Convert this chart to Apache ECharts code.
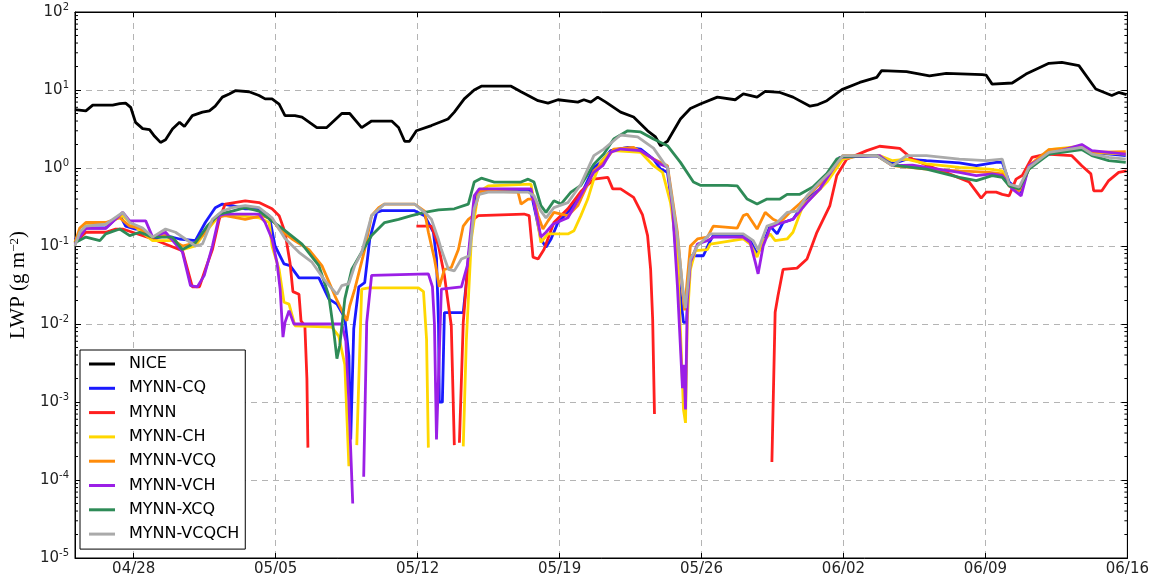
<!DOCTYPE html>
<html>
<head>
<meta charset="utf-8">
<script src="https://cdn.jsdelivr.net/npm/echarts@6/dist/echarts.min.js"></script>
<style>
  html, body { margin: 0; padding: 0; background: #fff; }
  #chart { width: 1152px; height: 578px; }
</style>
</head>
<body>
<div id="chart"></div>
<script>
// Liquid water path during the N-ICE drift, late April to mid June 2015.
// Every series is a list of [days since 2015-04-25 00:00 UTC, LWP in g m-2].
// A null value marks a stretch with no liquid (the line is broken there).

const nice = [
  [0.10,5.6],[0.64,5.4],[0.98,6.4],[1.96,6.4],[2.31,6.7],[2.60,6.8],[2.85,6.0],[3.09,3.85],[3.44,3.2],[3.78,3.1],
  [4.03,2.55],[4.32,2.13],[4.57,2.3],[4.91,3.16],[5.26,3.85],[5.50,3.4],[5.89,4.7],[6.39,5.2],[6.73,5.4],[7.02,6.2],
  [7.37,8.1],[7.71,8.9],[8.01,9.8],[8.69,9.5],[9.18,8.5],[9.48,7.7],[9.82,7.7],[10.17,6.6],[10.46,4.7],[10.95,4.7],
  [11.30,4.5],[12.03,3.3],[12.52,3.3],[13.26,5.0],[13.65,5.0],[14.24,3.3],[14.73,4.0],[15.72,4.0],[16.06,3.3],[16.36,2.2],
  [16.60,2.2],[16.94,3.0],[17.68,3.5],[18.50,4.25],[18.81,5.2],[19.30,7.7],[19.79,10],[20.14,11.2],[21.61,11.2],[22.10,9.5],
  [22.94,7.3],[23.43,6.8],[23.92,7.5],[24.90,7.0],[25.20,7.5],[25.54,7.0],[25.88,8.1],[26.28,7.0],[27.01,5.2],[27.65,4.5],
  [28.34,3.0],[28.73,2.5],[28.98,1.93],[29.32,2.2],[29.96,4.25],[30.45,5.8],[30.94,6.6],[31.78,8.1],[32.66,7.5],[33.06,8.9],
  [33.74,8.1],[34.14,9.6],[34.87,9.3],[35.51,8.1],[36.35,6.2],[36.74,6.5],[37.18,7.3],[37.92,10.1],[38.80,12.5],[39.64,14.5],
  [39.88,17.7],[41.11,17.2],[42.24,15.2],[43.07,16.3],[44.84,15.7],[45.04,15.5],[45.33,11.9],[46.32,12.3],[47.00,16],[48.13,22],
  [48.77,22.6],[49.61,20.5],[50.44,10.3],[51.23,8.5],[51.57,9.3],[51.96,8.7]
];

const mynnCQ = [
  [0.10,0.12],[0.64,0.17],[1.62,0.17],[2.31,0.25],[2.60,0.18],[3.09,0.165],[3.44,0.165],[3.93,0.123],[4.57,0.136],[5.26,0.123],
  [6.04,0.117],[6.53,0.2],[7.02,0.31],[7.37,0.345],[7.86,0.33],[8.50,0.3],[9.18,0.3],[9.68,0.245],[9.97,0.1],[10.41,0.059],
  [10.71,0.056],[11.15,0.039],[12.13,0.039],[12.62,0.021],[13.02,0.018],[13.41,0.012],[13.61,0.0039],[13.70,0.00033],[13.85,0.0087],[14.10,0.03],
  [14.39,0.034],[14.64,0.123],[14.98,0.27],[15.23,0.284],[16.85,0.284],[17.34,0.245],[17.78,0.15],[17.93,0.07],[18.03,0.01],[18.07,0.001],
  [18.22,0.001],[18.32,0.014],[19.25,0.014],[19.40,0.034],[19.65,0.15],[19.89,0.44],[20.14,0.51],[22.45,0.51],[22.59,0.49],[22.84,0.245],
  [23.08,0.123],[23.33,0.096],[23.58,0.123],[23.92,0.2],[24.41,0.27],[25.05,0.45],[25.69,1.02],[26.03,1.18],[26.52,1.67],[27.36,1.84],
  [28.00,1.75],[28.63,1.3],[28.98,0.97],[29.32,0.88],[29.57,0.3],[29.81,0.05],[30.11,0.0105],[30.26,0.0105],[30.45,0.075],[31.09,0.075],
  [31.43,0.117],[31.58,0.136],[33.06,0.136],[33.40,0.117],[33.74,0.079],[33.99,0.1],[34.38,0.18],[34.73,0.143],[35.02,0.2],[35.51,0.22],
  [36.20,0.4],[36.84,0.54],[37.48,0.97],[37.97,1.37],[38.80,1.41],[39.64,1.44],[40.42,1.13],[41.11,1.3],[42.09,1.24],[43.71,1.16],
  [44.55,1.07],[45.53,1.18],[45.83,1.18],[46.17,0.66],[46.76,0.49],[47.15,1.07],[48.13,1.51],[49.75,1.9],[50.25,1.59],[51.92,1.44]
];

const mynn = [
  [0.10,0.11],[0.64,0.15],[1.62,0.15],[2.11,0.165],[2.46,0.165],[3.93,0.123],[5.40,0.087],[5.89,0.03],[6.24,0.03],[6.53,0.05],
  [6.88,0.09],[7.22,0.22],[7.51,0.345],[8.50,0.38],[9.18,0.36],[9.82,0.3],[10.17,0.245],[10.46,0.15],[10.71,0.06],[10.85,0.026],
  [11.15,0.024],[11.25,0.011],[11.44,0.0095],[11.54,0.002],[11.59,0.00026],[11.70,null],
  [16.94,0.18],[17.68,0.18],[18.03,0.1],[18.32,0.042],[18.66,0.0095],[18.81,0.00028],[18.90,null],
  [19.06,0.0003],[19.25,0.0105],[19.50,0.068],[19.74,0.22],[19.99,0.245],[22.25,0.257],[22.50,0.245],[22.69,0.072],[22.94,0.068],[23.23,0.09],
  [23.72,0.2],[24.41,0.3],[25.05,0.5],[25.69,0.72],[26.38,0.76],[26.62,0.54],[27.01,0.54],[27.65,0.42],[28.09,0.25],[28.34,0.136],
  [28.49,0.05],[28.59,0.0116],[28.68,0.0007],[29.00,null],
  [34.47,0.00017],[34.63,0.0141],[34.77,0.023],[35.02,0.05],[35.71,0.052],[36.20,0.068],[36.69,0.15],[37.33,0.33],[37.67,0.8],[38.16,1.3],
  [39.15,1.67],[39.78,1.9],[40.77,1.79],[41.40,1.3],[42.09,1.09],[43.22,0.84],[44.20,0.66],[44.79,0.41],[45.04,0.49],[45.53,0.49],
  [45.83,0.46],[46.17,0.44],[46.51,0.72],[46.81,0.8],[47.30,1.37],[47.99,1.51],[49.26,1.44],[49.75,1.07],[50.20,0.84],[50.34,0.51],
  [50.74,0.51],[51.08,0.69],[51.57,0.88],[51.96,0.92]
];

const mynnCH = [
  [0.10,0.11],[0.64,0.19],[1.62,0.19],[2.46,0.245],[2.80,0.2],[3.93,0.117],[5.06,0.117],[5.40,0.09],[6.04,0.1],[6.53,0.15],
  [7.22,0.245],[7.51,0.257],[9.18,0.23],[9.68,0.2],[9.82,0.1],[10.17,0.05],[10.41,0.019],[10.66,0.018],[10.95,0.0095],[12.77,0.0091],
  [13.11,0.007],[13.41,0.003],[13.61,0.00015],[13.80,null],
  [14.00,0.00028],[14.24,0.028],[14.59,0.029],[17.04,0.029],[17.29,0.026],[17.44,0.0064],[17.53,0.00026],[18.50,null],
  [19.25,0.00027],[19.40,0.006],[19.65,0.123],[19.99,0.49],[20.48,0.59],[22.59,0.62],[22.84,0.27],[23.08,0.111],[23.43,0.143],[24.41,0.143],
  [24.71,0.157],[25.05,0.245],[25.39,0.4],[25.69,0.72],[26.03,1.18],[26.38,1.51],[26.67,1.67],[28.00,1.59],[28.63,1.07],[29.08,0.88],
  [29.47,0.36],[29.81,0.083],[30.11,0.0008],[30.21,0.00054],[30.30,0.0116],[30.45,0.05],[30.70,0.087],[31.29,0.09],[31.43,0.106],[33.06,0.123],
  [33.40,0.106],[33.74,0.072],[33.99,0.111],[34.38,0.143],[34.63,0.117],[35.22,0.123],[35.51,0.15],[36.00,0.33],[36.69,0.49],[37.18,0.66],
  [37.97,1.3],[38.80,1.44],[39.78,1.44],[40.42,1.24],[41.11,1.3],[42.09,1.13],[43.71,1.02],[45.19,0.97],[45.83,0.92],[46.17,0.59],
  [46.66,0.51],[47.15,0.97],[48.13,1.72],[49.75,1.9],[50.25,1.59],[51.92,1.51]
];

const mynnVCQ = [
  [0.10,0.11],[0.34,0.17],[0.64,0.2],[1.62,0.2],[2.31,0.23],[2.80,0.18],[3.29,0.17],[3.78,0.13],[4.57,0.136],[5.40,0.1],
  [6.04,0.11],[6.53,0.15],[7.02,0.23],[7.51,0.245],[8.50,0.22],[9.33,0.245],[9.82,0.22],[10.17,0.165],[10.81,0.123],[11.64,0.09],
  [12.28,0.056],[12.92,0.023],[13.51,0.011],[13.65,0.017],[13.90,0.028],[14.39,0.09],[14.73,0.245],[15.08,0.31],[15.37,0.345],[16.85,0.345],
  [17.34,0.28],[17.53,0.15],[17.83,0.068],[18.07,0.03],[18.32,0.05],[18.66,0.053],[19.01,0.09],[19.25,0.18],[19.50,0.22],[19.74,0.245],
  [19.99,0.44],[20.14,0.51],[21.95,0.49],[22.10,0.345],[22.45,0.4],[22.74,0.4],[22.94,0.245],[23.18,0.165],[23.43,0.21],[23.72,0.27],
  [24.07,0.257],[24.41,0.245],[24.90,0.33],[25.05,0.4],[25.69,0.92],[26.18,1.18],[26.67,1.75],[27.65,1.84],[28.63,1.3],[29.32,1.07],
  [29.81,0.15],[30.16,0.015],[30.45,0.1],[30.80,0.123],[31.29,0.13],[31.58,0.18],[32.76,0.17],[33.06,0.245],[33.25,0.257],[33.74,0.165],
  [34.14,0.27],[34.53,0.22],[34.87,0.2],[35.36,0.27],[35.85,0.35],[36.49,0.51],[37.18,0.76],[37.97,1.44],[39.64,1.44],[40.42,1.07],
  [42.09,0.97],[43.71,0.92],[45.19,0.88],[45.83,0.84],[46.17,0.59],[46.66,0.51],[47.15,1.07],[48.13,1.72],[49.75,1.84],[50.25,1.59],
  [51.92,1.62]
];

const mynnVCH = [
  [0.10,0.106],[0.64,0.168],[1.62,0.168],[2.46,0.27],[2.80,0.21],[3.59,0.21],[3.93,0.13],[4.57,0.15],[5.40,0.084],[5.80,0.031],
  [6.14,0.03],[6.48,0.042],[6.88,0.1],[7.22,0.245],[7.51,0.257],[9.18,0.257],[9.48,0.2],[9.82,0.123],[10.07,0.06],[10.22,0.028],
  [10.36,0.0068],[10.46,0.0105],[10.66,0.0148],[10.90,0.01],[13.26,0.01],[13.46,0.006],[13.61,0.001],[13.80,0.00005],[14.00,null],
  [14.34,0.00011],[14.49,0.0105],[14.73,0.042],[17.53,0.044],[17.73,0.03],[17.83,0.01],[17.93,0.00033],[18.05,0.003],[18.17,0.028],[19.16,0.03],
  [19.45,0.056],[19.79,0.44],[20.04,0.54],[22.59,0.54],[22.84,0.27],[23.08,0.13],[23.33,0.15],[23.67,0.19],[24.41,0.23],[25.05,0.45],
  [25.69,0.88],[26.13,1.07],[26.52,1.59],[27.01,1.75],[28.00,1.67],[28.63,1.3],[28.98,1.12],[29.32,1.02],[29.57,0.3],[29.81,0.031],
  [30.06,0.0015],[30.13,0.003],[30.21,0.0008],[30.30,0.02],[30.45,0.062],[30.80,0.106],[31.29,0.117],[31.58,0.13],[33.06,0.13],[33.40,0.111],
  [33.65,0.062],[33.79,0.044],[34.04,0.1],[34.38,0.17],[34.73,0.19],[35.02,0.2],[35.51,0.22],[36.20,0.36],[36.84,0.54],[37.48,0.97],
  [37.82,1.37],[38.80,1.41],[39.78,1.44],[40.42,1.07],[41.40,1.09],[42.09,1.02],[43.71,0.88],[44.55,0.8],[45.33,0.84],[45.83,0.8],
  [46.32,0.54],[46.76,0.44],[47.15,1.07],[48.13,1.51],[49.75,2.0],[50.25,1.67],[51.92,1.51]
];

const mynnXCQ = [
  [0.10,0.11],[0.64,0.13],[1.33,0.117],[1.62,0.143],[2.31,0.165],[2.80,0.136],[3.29,0.15],[3.93,0.13],[4.91,0.13],[5.40,0.09],
  [6.04,0.11],[6.63,0.18],[7.22,0.257],[7.86,0.28],[8.50,0.31],[9.18,0.28],[9.82,0.21],[10.46,0.157],[11.30,0.106],[12.13,0.056],
  [12.62,0.023],[12.87,0.0078],[13.02,0.0036],[13.16,0.0053],[13.41,0.021],[13.75,0.05],[14.24,0.083],[14.73,0.136],[15.37,0.2],[16.06,0.22],
  [16.70,0.245],[17.34,0.27],[18.03,0.29],[18.81,0.3],[19.50,0.345],[19.79,0.66],[20.14,0.74],[20.78,0.66],[22.10,0.66],[22.45,0.72],
  [22.74,0.66],[23.08,0.33],[23.33,0.27],[23.72,0.38],[24.07,0.345],[24.56,0.49],[25.05,0.6],[25.69,1.12],[26.18,1.51],[26.67,2.35],
  [27.36,3.0],[28.00,2.9],[28.63,2.35],[29.32,1.93],[29.96,1.18],[30.60,0.66],[30.94,0.6],[32.27,0.6],[32.76,0.59],[33.25,0.4],
  [33.74,0.345],[34.23,0.4],[34.87,0.4],[35.22,0.46],[35.85,0.46],[36.49,0.57],[37.18,0.85],[37.67,1.3],[37.97,1.4],[39.64,1.44],
  [40.42,1.09],[42.09,0.97],[43.71,0.76],[44.55,0.69],[45.33,0.8],[45.83,0.76],[46.17,0.59],[46.66,0.54],[47.15,0.97],[48.13,1.51],
  [49.75,1.72],[50.25,1.44],[51.08,1.24],[51.92,1.18]
];

const mynnVCQCH = [
  [0.10,0.1],[0.34,0.15],[0.64,0.18],[1.62,0.19],[2.46,0.27],[2.80,0.2],[3.44,0.17],[3.93,0.13],[4.57,0.165],[5.06,0.15],
  [5.55,0.123],[6.04,0.1],[6.39,0.106],[6.88,0.22],[7.37,0.28],[7.86,0.31],[8.50,0.33],[9.18,0.31],[9.82,0.23],[10.46,0.125],
  [11.15,0.083],[11.79,0.062],[12.43,0.036],[13.02,0.024],[13.26,0.031],[13.61,0.033],[13.90,0.056],[14.24,0.083],[14.73,0.245],[15.37,0.345],
  [16.85,0.345],[17.34,0.27],[17.68,0.22],[18.03,0.12],[18.17,0.09],[18.52,0.05],[18.81,0.048],[19.16,0.068],[19.55,0.075],[19.79,0.3],
  [20.04,0.46],[20.48,0.49],[22.45,0.49],[22.74,0.44],[23.08,0.28],[23.33,0.23],[23.72,0.31],[24.41,0.36],[25.05,0.62],[25.69,1.44],
  [26.18,1.75],[27.01,2.65],[27.85,2.5],[28.63,1.8],[29.12,1.18],[29.32,1.02],[29.81,0.136],[30.06,0.031],[30.21,0.016],[30.45,0.068],
  [30.80,0.1],[31.43,0.143],[33.06,0.143],[33.55,0.117],[33.79,0.09],[34.23,0.18],[34.73,0.2],[35.22,0.27],[35.71,0.28],[36.20,0.44],
  [36.84,0.66],[37.33,0.88],[37.97,1.44],[39.64,1.44],[40.42,1.07],[41.11,1.44],[42.09,1.44],[43.71,1.3],[45.04,1.24],[45.83,1.3],
  [46.17,0.62],[46.66,0.57],[47.15,1.02],[48.13,1.59],[49.75,1.84],[50.25,1.51],[51.08,1.37],[51.92,1.3]
];

const seriesNames  = ['NICE', 'MYNN-CQ', 'MYNN', 'MYNN-CH', 'MYNN-VCQ', 'MYNN-VCH', 'MYNN-XCQ', 'MYNN-VCQCH'];
const seriesData   = [nice, mynnCQ, mynn, mynnCH, mynnVCQ, mynnVCH, mynnXCQ, mynnVCQCH];
const seriesColors = ['#000000', '#1a1aff', '#ff1f1f', '#ffd700', '#ff8c0a', '#9b1fe6', '#2e8b57', '#aaaaaa'];

// Weekly date ticks along the time axis
const weekTicks = ['2015-04-28', '2015-05-05', '2015-05-12', '2015-05-19', '2015-05-26', '2015-06-02', '2015-06-09', '2015-06-16'];

const DAY = 86400000;
const START = Date.UTC(2015, 3, 25);
const X_MIN = Date.UTC(2015, 3, 25, 2, 30);
const X_MAX = Date.UTC(2015, 5, 16);
const Y_MIN = 1e-5, Y_MAX = 1e2;

const weekTickTimes = weekTicks.map(s => Date.parse(s + 'T00:00:00Z'));

// minor log ticks (2..9 within each decade)
const minorTickValues = [];
for (let e = -5; e < 2; e++) {
  for (let m = 2; m <= 9; m++) minorTickValues.push(m * Math.pow(10, e));
}

const toTime = arr => arr.map(([d, v]) => [START + d * DAY, v]);

const FONT = 'DejaVu Sans';
const gridDash = { color: '#b4b4b4', width: 1, type: [6, 5] };

const chart = echarts.init(document.getElementById('chart'), null, { renderer: 'canvas' });

const lineSeries = seriesNames.map((name, i) => ({
  name,
  type: 'line',
  data: toTime(seriesData[i]),
  showSymbol: false,
  symbol: 'none',
  connectNulls: false,
  smooth: false,
  lineStyle: { color: seriesColors[i], width: 2.8 },
  itemStyle: { color: seriesColors[i] },
  emphasis: { disabled: true },
  z: 2
}));

const minorTickSeries = {
  type: 'custom',
  silent: true,
  clip: false,
  z: 6,
  data: minorTickValues.map(v => [X_MIN, v]),
  renderItem(params, api) {
    const v = api.value(1);
    const l = api.coord([X_MIN, v]);
    const r = api.coord([X_MAX, v]);
    return {
      type: 'group',
      children: [
        { type: 'line', shape: { x1: l[0], y1: l[1], x2: l[0] + 3, y2: l[1] }, style: { stroke: '#000', lineWidth: 1 } },
        { type: 'line', shape: { x1: r[0] - 3, y1: r[1], x2: r[0], y2: r[1] }, style: { stroke: '#000', lineWidth: 1 } }
      ]
    };
  }
};

const expLabel = v => {
  const e = Math.round(Math.log10(v));
  return '{b|10}{s|' + e + '}';
};

const option = {
  animation: false,
  useUTC: true,
  backgroundColor: '#ffffff',
  grid: { left: 72, right: 24, top: 12, bottom: 20, show: true, borderColor: '#000', borderWidth: 1, backgroundColor: 'transparent' },
  legend: {
    data: seriesNames,
    orient: 'vertical',
    left: 80,
    top: 350,
    icon: 'rect',
    itemWidth: 26,
    itemHeight: 3,
    itemGap: 6.3,
    padding: [5, 6, 6, 9],
    borderColor: '#000',
    borderWidth: 1,
    backgroundColor: '#fff',
    selectedMode: false,
    textStyle: { fontFamily: FONT, fontSize: 16, color: '#000', lineHeight: 18, padding: [0, 0, 0, 9] },
    z: 10
  },
  xAxis: [
    {
      type: 'time',
      min: X_MIN,
      max: X_MAX,
      position: 'bottom',
      axisLine: { show: true, lineStyle: { color: '#000', width: 1 } },
      axisTick: { show: true, inside: true, length: 5, customValues: weekTickTimes, lineStyle: { color: '#000' } },
      axisLabel: {
        customValues: weekTickTimes,
        formatter: '{MM}/{dd}',
        fontFamily: FONT, fontSize: 15, color: '#222', margin: 4,
        hideOverlap: false, showMinLabel: true, showMaxLabel: true
      },
      splitLine: { show: true, lineStyle: gridDash }
    },
    {
      type: 'time',
      min: X_MIN,
      max: X_MAX,
      position: 'top',
      axisLine: { show: true, lineStyle: { color: '#000', width: 1 } },
      axisTick: { show: true, inside: true, length: 5, customValues: weekTickTimes, lineStyle: { color: '#000' } },
      axisLabel: { show: false },
      splitLine: { show: false }
    }
  ],
  yAxis: [
    {
      type: 'log',
      logBase: 10,
      min: Y_MIN,
      max: Y_MAX,
      splitNumber: 7,
      name: 'LWP (g m{s|\u22122})',
      nameLocation: 'middle',
      nameRotate: 90,
      nameGap: 46,
      nameTextStyle: {
        fontFamily: 'Liberation Serif', fontSize: 21, color: '#000',
        rich: { s: { fontFamily: 'Liberation Serif', fontSize: 13, verticalAlign: 'top', color: '#000' } }
      },
      axisLine: { show: true, lineStyle: { color: '#000', width: 1 } },
      axisTick: { show: true, inside: true, length: 6, lineStyle: { color: '#000' } },
      axisLabel: {
        formatter: expLabel,
        margin: 6,
        color: '#222',
        rich: {
          b: { fontFamily: FONT, fontSize: 15, color: '#222', lineHeight: 20 },
          s: { fontFamily: FONT, fontSize: 10, color: '#222', verticalAlign: 'top', lineHeight: 20 }
        }
      },
      splitLine: { show: true, lineStyle: gridDash },
      minorTick: { show: false }
    },
    {
      type: 'log',
      logBase: 10,
      min: Y_MIN,
      max: Y_MAX,
      splitNumber: 7,
      position: 'right',
      axisLine: { show: true, lineStyle: { color: '#000', width: 1 } },
      axisTick: { show: true, inside: true, length: 6, lineStyle: { color: '#000' } },
      axisLabel: { show: false },
      splitLine: { show: false }
    }
  ],
  series: lineSeries.concat([minorTickSeries])
};

chart.setOption(option);
</script>
</body>
</html>
